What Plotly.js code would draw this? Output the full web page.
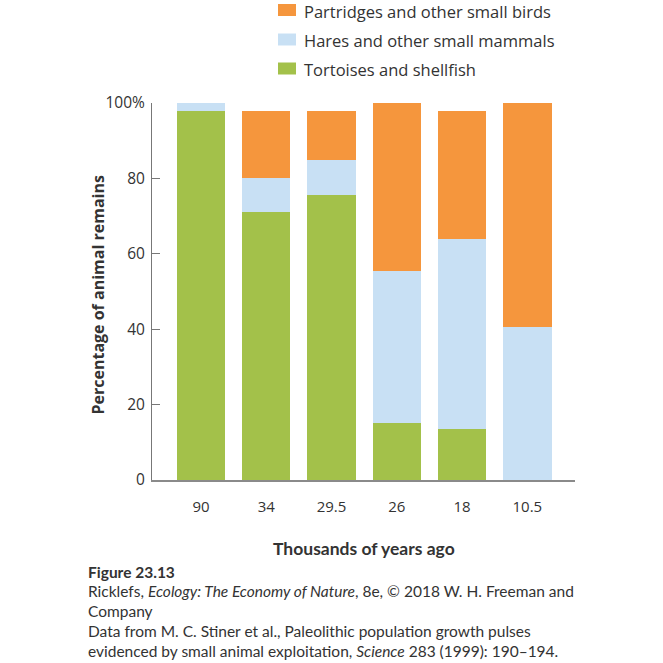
<!DOCTYPE html>
<html>
<head>
<meta charset="utf-8">
<script src="https://cdn.plot.ly/plotly-3.0.1.min.js"></script>
<style>
  html, body { margin: 0; padding: 0; background: #fff; }
  #chart { width: 663px; height: 663px; }
</style>
</head>
<body>
<div id="chart"></div>
<script>
// Thousand-year periods (categories on the x axis)
const periods = ['90', '34', '29.5', '26', '18', '10.5'];

// Percentage of animal remains by prey type
const tortoisesShellfish = [98, 71, 75.5, 15, 13.5, 0];
const haresMammals       = [2, 9, 9.5, 40.5, 50.5, 40.5];
const partridgesBirds    = [0, 18, 13, 44.5, 34, 59.5];

const seriesNames = [
  'Tortoises and shellfish',
  'Hares and other small mammals',
  'Partridges and other small birds'
];
const seriesColors = ['#A3C14A', '#C8E0F4', '#F5963D'];

const yTickVals = [0, 20, 40, 60, 80, 100];
const yTickText = ['0', '20', '40', '60', '80', '100%'];

// Plot-area edges in pixels, used to place the legend and captions
const W = 663, H = 663;
const L = 152, R = 575, T = 103, B = 480;
const px = x => (x - L) / (R - L);
const py = y => (B - y) / (B - T);

const chartFont = 'Open Sans, sans-serif';
const captionFont = 'Lato, sans-serif';
const textColor = '#333333';

const values = [tortoisesShellfish, haresMammals, partridgesBirds];
const traces = values.map((v, i) => ({
  type: 'bar',
  name: seriesNames[i],
  x: periods,
  y: v,
  marker: { color: seriesColors[i], line: { width: 0 } },
  showlegend: false,
  hoverinfo: 'x+y+name'
}));

// Hand-built legend: swatch + label, birds on top
const legendRows = [
  { name: seriesNames[2], color: seriesColors[2], cy: 10 },
  { name: seriesNames[1], color: seriesColors[1], cy: 39.5 },
  { name: seriesNames[0], color: seriesColors[0], cy: 68.5 }
];
const shapes = legendRows.map(r => ({
  type: 'rect', xref: 'paper', yref: 'paper',
  x0: px(278), x1: px(296), y0: py(r.cy + 6), y1: py(r.cy - 6),
  fillcolor: r.color, line: { width: 0 }
}));
const annotations = legendRows.map(r => ({
  xref: 'paper', yref: 'paper', x: px(302), y: py(r.cy + 1),
  xanchor: 'left', yanchor: 'middle', showarrow: false,
  text: r.name, font: { family: chartFont, size: 16.5, color: textColor }
}));

// Axis titles
annotations.push({
  xref: 'paper', yref: 'paper', x: px(364), y: py(548),
  xanchor: 'center', yanchor: 'middle', showarrow: false,
  text: '<b>Thousands of years ago</b>',
  font: { family: captionFont, size: 17.5, color: textColor }
});
annotations.push({
  xref: 'paper', yref: 'paper', x: px(97.5), y: py(295),
  xanchor: 'center', yanchor: 'middle', showarrow: false, textangle: -90,
  text: '<b>Percentage of animal remains</b>',
  font: { family: chartFont, size: 16, color: textColor }
});

const captionLines = [
  { y: 571.5, text: '<b>Figure 23.13</b>' },
  { y: 591, text: 'Ricklefs, <i>Ecology: The Economy of Nature</i>, 8e, © 2018 W. H. Freeman and' },
  { y: 611, text: 'Company' },
  { y: 631, text: 'Data from M. C. Stiner et al., Paleolithic population growth pulses' },
  { y: 650.5, text: 'evidenced by small animal exploitation, <i>Science</i> 283 (1999): 190–194.' }
];
captionLines.forEach(c => annotations.push({
  xref: 'paper', yref: 'paper', x: px(86), y: py(c.y),
  xanchor: 'left', yanchor: 'middle', showarrow: false,
  text: c.text, font: { family: captionFont, size: 15.5, color: textColor }
}));

const layout = {
  width: W, height: H,
  margin: { l: L, r: W - R, t: T, b: H - B, pad: 0 },
  paper_bgcolor: '#ffffff', plot_bgcolor: '#ffffff',
  barmode: 'stack',
  bargap: 0.26,
  showlegend: false,
  font: { family: chartFont, color: textColor },
  xaxis: {
    type: 'category',
    range: [-0.75, 5.73],
    showgrid: false, zeroline: false,
    showline: true, linecolor: '#8a8a8a', linewidth: 2,
    ticks: '', ticklabelstandoff: 12,
    tickfont: { family: chartFont, size: 15, color: textColor }
  },
  yaxis: {
    range: [0, 100],
    showgrid: false, zeroline: false,
    showline: true, linecolor: '#777777', linewidth: 1,
    ticks: 'inside', ticklen: 8, tickwidth: 1, tickcolor: '#777777',
    tickvals: yTickVals, ticktext: yTickText,
    ticklabelstandoff: 3,
    tickfont: { family: chartFont, size: 15.5, color: textColor }
  },
  shapes: shapes,
  annotations: annotations
};

Plotly.newPlot('chart', traces, layout, { displayModeBar: false, staticPlot: true });
</script>
</body>
</html>
